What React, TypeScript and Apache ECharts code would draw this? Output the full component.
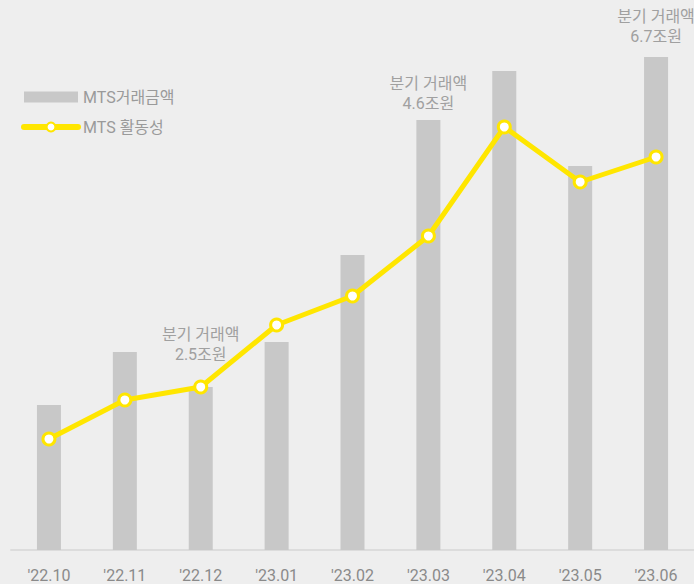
import React, { useEffect, useRef } from "react";
import * as echarts from "echarts";

const categories = ["'22.10", "'22.11", "'22.12", "'23.01", "'23.02", "'23.03", "'23.04", "'23.05", "'23.06"];
const volumeValues = [29, 39.6, 32.6, 41.6, 59, 86, 95.8, 76.8, 98.6];
const activityValues = [22.2, 30, 32.6, 45, 50.8, 62.8, 84.6, 73.6, 78.6];
const annotations: Record<number, string> = {
  2: "분기 거래액\n2.5조원",
  5: "분기 거래액\n4.6조원",
  8: "분기 거래액\n6.7조원",
};
const annotationDistance: Record<number, number> = { 2: 23, 5: 7, 8: 11 };

const FONT = "Roboto, 'Noto Sans CJK KR', sans-serif";

export default function App() {
  const ref = useRef<HTMLDivElement>(null);
  useEffect(() => {
    document.body.style.margin = "0";
    const chart = echarts.init(ref.current!, null, { renderer: "svg" });
    const barData = volumeValues.map((v, i) =>
      annotations[i]
        ? {
            value: v,
            label: {
              show: true,
              position: "top",
              distance: annotationDistance[i],
              formatter: annotations[i],
              color: "#a0a0a0",
              fontSize: 16,
              lineHeight: 20,
              fontFamily: FONT,
              align: "center",
            },
          }
        : v
    );
    chart.setOption({
      animation: false,
      backgroundColor: "#eeeeee",
      grid: { left: 11, right: 0, top: 50, bottom: 34 },
      legend: {
        orient: "vertical",
        left: 16,
        top: 84,
        itemWidth: 54,
        itemHeight: 11,
        itemGap: 14,
        textStyle: { color: "#9a9a9a", fontSize: 16, fontFamily: FONT },
        data: [
          { name: "MTS거래금액", icon: "rect" },
          { name: "MTS 활동성", lineStyle: { width: 6, cap: "round" } },
        ],
      },
      xAxis: {
        type: "category",
        data: categories,
        axisLine: { show: true, lineStyle: { color: "#dcdcdc", width: 2 } },
        axisTick: { show: false },
        axisLabel: { color: "#8a8a8a", fontSize: 16, fontFamily: "Roboto, sans-serif", margin: 17 },
      },
      yAxis: [
        { type: "value", min: 0, max: 100, show: false },
        { type: "value", min: 0, max: 100, show: false },
      ],
      series: [
        {
          name: "MTS거래금액",
          type: "bar",
          data: barData,
          barWidth: 24,
          itemStyle: { color: "#c8c8c8" },
          yAxisIndex: 0,
          z: 1,
        },
        {
          name: "MTS 활동성",
          type: "line",
          data: activityValues,
          yAxisIndex: 1,
          symbol: "circle",
          symbolSize: 12,
          lineStyle: { color: "#ffe600", width: 5 },
          itemStyle: { color: "#ffffff", borderColor: "#ffe600", borderWidth: 3 },
          z: 3,
        },
      ],
    });
    return () => chart.dispose();
  }, []);
  return <div ref={ref} style={{ position: "absolute", left: 0, top: 0, width: 694, height: 584 }} />;
}
